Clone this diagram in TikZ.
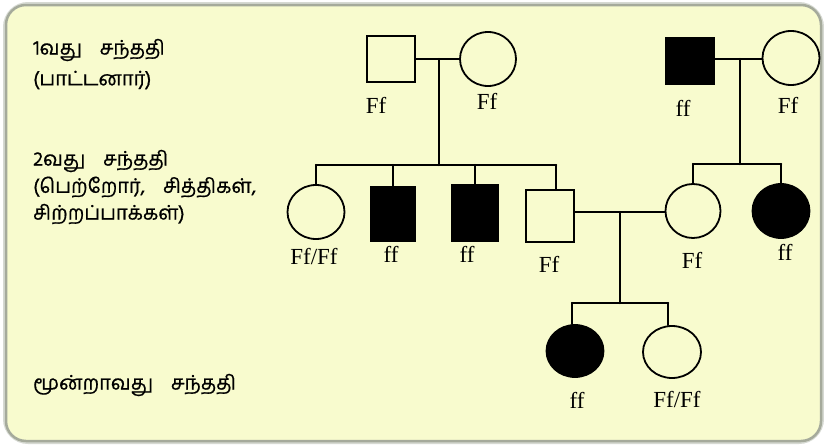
\documentclass[tikz,border=0pt]{standalone}
\usepackage{fontspec}
\setmainfont{Liberation Serif}
\newfontfamily\tamilfont[Script=Tamil,FakeBold=0.6]{Hind Madurai}
\usetikzlibrary{shapes.geometric,calc}
\definecolor{bgyellow}{RGB}{248,251,206}
\definecolor{framecol}{RGB}{165,170,155}
\begin{document}
\begin{tikzpicture}[x=1pt,y=-1pt,
 pline/.style={line width=2.5pt, line cap=round},
 male/.style={rectangle, draw, line width=1.8pt, inner sep=0pt},
 female/.style={ellipse, draw, line width=1.8pt, inner sep=0pt},
 aff/.style={fill=black},
 geno/.style={font=\fontsize{23}{25}\selectfont, inner sep=0pt},
 tam/.style={font=\tamilfont\fontsize{20}{22}\selectfont, anchor=west, inner sep=0pt}]
\useasboundingbox (0,0) rectangle (824,447);
\fill[white] (0,0) rectangle (824,447);
\draw[framecol!45, line width=6pt, rounded corners=22pt] (6,5) rectangle (821,441);
\draw[framecol, line width=2.5pt, fill=bgyellow, rounded corners=20pt] (6,5) rectangle (821,441);

% generation labels
\node[tam] (t1) at (33,50) {1வது\hspace{0.9em}சந்ததி};
\node[tam] (t2) at (33,80) {(பாட்டனார்)};
\node[tam] (t3) at (33,161) {2வது\hspace{0.9em}சந்ததி};
\node[tam] (t4) at (33,187) {(பெற்றோர்,\hspace{0.9em}சித்திகள்,};
\node[tam] (t5) at (33,214) {சிற்றப்பாக்கள்)};
\node[tam] (t6) at (33,385) {மூன்றாவது\hspace{0.9em}சந்ததி};

% generation 1
\node[male, minimum width=48pt, minimum height=46pt] (s1) at (391,59) {};
\node[female, minimum width=56pt, minimum height=54pt] (c1) at (488,59) {};
\node[male, aff, minimum width=49pt, minimum height=47pt] (s2) at (690,61) {};
\node[female, minimum width=57pt, minimum height=54pt] (c2) at (791,58) {};
\node[geno] (l1) at (376,105) {Ff};
\node[geno] (l2) at (487,101) {Ff};
\node[geno] (l3) at (683,108) {ff};
\node[geno] (l4) at (788,105) {Ff};

% generation 2
\node[female, minimum width=57pt, minimum height=54pt] (a1) at (316,212) {};
\node[male, aff, minimum width=44pt, minimum height=54pt] (a2) at (393,214) {};
\node[male, aff, minimum width=47pt, minimum height=56pt] (a3) at (475,213) {};
\node[male, minimum width=48pt, minimum height=52pt] (a4) at (550,216) {};
\node[female, minimum width=55pt, minimum height=54pt] (a5) at (693,211) {};
\node[female, aff, minimum width=57pt, minimum height=54pt] (a6) at (781,211) {};
\node[geno] (m1) at (314,257) {Ff/Ff};
\node[geno] (m2) at (391,254) {ff};
\node[geno] (m3) at (467,254) {ff};
\node[geno] (m4) at (549,264) {Ff};
\node[geno] (m5) at (692,260) {Ff};
\node[geno] (m6) at (785,252) {ff};

% generation 3
\node[female, aff, minimum width=57pt, minimum height=52pt] (b1) at (575,351) {};
\node[female, minimum width=58pt, minimum height=52pt] (b2) at (672,352) {};
\node[geno] (n1) at (577,400) {ff};
\node[geno] (n2) at (677,400) {Ff/Ff};

% connector coordinates
\coordinate (j1) at (439,59);
\coordinate (j2) at (740,59);
\coordinate (sib1) at (439,165);
\coordinate (sib2) at (740,164);
\coordinate (j3) at (620,212);
\coordinate (sib3) at (620,303);
\coordinate (d4) at ($(a4.north)+(6,0)$);
\coordinate (e1) at ($(b1.north)+(-3,0)$);
\coordinate (e2) at ($(b2.north)+(-4,0)$);

% marriages and descents
\draw[pline] (s1.east) -- (c1.west);
\draw[pline] (j1) -- (sib1);
\draw[pline] (s2.east |- j2) -- (c2.west |- j2);
\draw[pline] (j2) -- (sib2);
\draw[pline] (a4.east |- j3) -- (a5.west |- j3);
\draw[pline] (j3) -- (sib3);

% sibship lines
\draw[pline] (a1.north |- sib1) -- (d4 |- sib1);
\draw[pline] (a1.north |- sib1) -- (a1.north);
\draw[pline] (a2.north |- sib1) -- (a2.north);
\draw[pline] (a3.north |- sib1) -- (a3.north);
\draw[pline] (d4 |- sib1) -- (d4);
\draw[pline] (a5.north |- sib2) -- (a6.north |- sib2);
\draw[pline] (a5.north |- sib2) -- (a5.north);
\draw[pline] (a6.north |- sib2) -- (a6.north);
\draw[pline] (e1 |- sib3) -- (e2 |- sib3);
\draw[pline] (e1 |- sib3) -- (e1);
\draw[pline] (e2 |- sib3) -- (e2);
\end{tikzpicture}
\end{document}
